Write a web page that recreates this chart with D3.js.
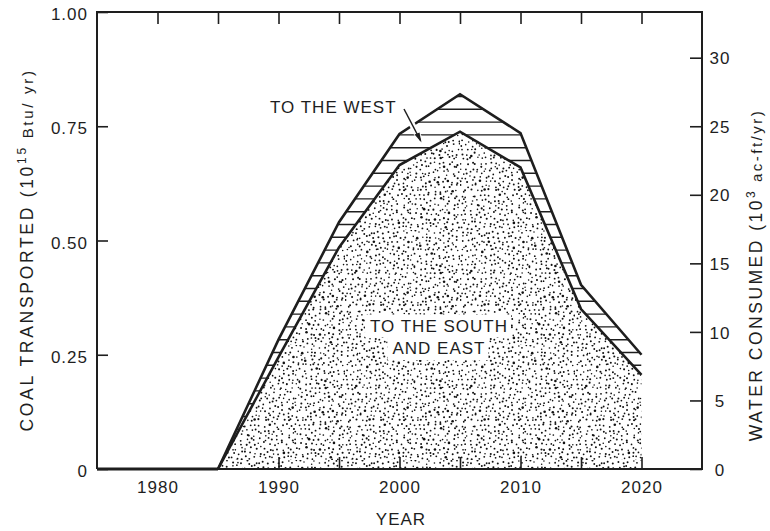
<!DOCTYPE html>
<html>
<head>
<meta charset="utf-8">
<script src="https://cdn.jsdelivr.net/npm/d3@7"></script>
<style>
  html, body { margin: 0; padding: 0; background: #fff; }
  svg { display: block; font-family: "Liberation Sans", Arial, Helvetica, sans-serif; }
</style>
</head>
<body>
<svg id="chart" width="770" height="531"></svg>
<script>
// Coal shipments (10^15 Btu/yr) by destination, read at five-year steps
const years      = [1975, 1980, 1985, 1990, 1995, 2000, 2005, 2010, 2015, 2020];
const southEast  = [0, 0, 0, 0.245, 0.485, 0.665, 0.738, 0.66, 0.35, 0.206];
const totalCoal  = [0, 0, 0, 0.283, 0.54, 0.733, 0.82, 0.735, 0.403, 0.25];

// Axis ticks and labels
const xLabelYears   = [1980, 1990, 2000, 2010, 2020];
const xTopTicks     = [1980, 1985, 1990, 1995, 2000, 2005, 2010, 2015, 2020];
const xBottomTicks  = [1990, 1995, 2000, 2005, 2010, 2015, 2020];
const coalTicks     = [0, 0.25, 0.5, 0.75, 1.0];
const coalTickText  = ["0", "0.25", "0.50", "0.75", "1.00"];
const waterTicks    = [0, 5, 10, 15, 20, 25, 30];

const ink = "#1e1e1e";
const svg = d3.select("#chart");

const x  = d3.scaleLinear().domain([1975, 2025]).range([97, 702]);
const y  = d3.scaleLinear().domain([0, 1]).range([469, 12]);
const yW = d3.scaleLinear().domain([0, 100 / 3]).range([469, 12]);

const rows = years.map((yr, i) => ({ year: yr, se: southEast[i], tot: totalCoal[i] }));
const active = rows.filter(d => d.year >= 1985);
const flat = rows.filter(d => d.year <= 1985);

const defs = svg.append("defs");

// Stipple texture: jittered grid of fine dots
const tile = 115, step = 4.6;
const rng = d3.randomLcg(0.4127);
const stip = defs.append("pattern")
  .attr("id", "stipple")
  .attr("patternUnits", "userSpaceOnUse")
  .attr("width", tile).attr("height", tile);
const dots = [];
for (let i = 0; i < tile / step; i++) {
  for (let j = 0; j < tile / step; j++) {
    const cx = (i + 0.5) * step + (rng() - 0.5) * step * 0.85;
    const cy = (j + 0.5) * step + (rng() - 0.5) * step * 0.85;
    const big = rng() < 0.05;
    dots.push({ cx, cy, r: big ? 1.3 : 0.75 + rng() * 0.3 });
  }
}
stip.selectAll("circle").data(dots).join("circle")
  .attr("cx", d => d.cx).attr("cy", d => d.cy).attr("r", d => d.r)
  .attr("fill", "#111");

// Lower (south & east) area
const seArea = d3.area()
  .x(d => x(d.year)).y0(y(0)).y1(d => y(d.se));
svg.append("path").datum(active)
  .attr("d", seArea)
  .attr("fill", "url(#stipple)");

// Band between the two curves (shipments to the west), hatched
const westArea = d3.area()
  .x(d => x(d.year)).y0(d => y(d.se)).y1(d => y(d.tot));
defs.append("clipPath").attr("id", "westClip")
  .append("path").datum(active).attr("d", westArea);
svg.append("path").datum(active).attr("d", westArea).attr("fill", "#fff");
const hatchYs = d3.range(6.9, 470, 12.8);
svg.append("g").attr("clip-path", "url(#westClip)")
  .selectAll("line").data(hatchYs).join("line")
  .attr("x1", x(1985)).attr("x2", x(2020))
  .attr("y1", d => d).attr("y2", d => d)
  .attr("stroke", ink).attr("stroke-width", 1.4);

// Frame: left, top, right, bottom
const frame = svg.append("g").attr("stroke", ink).attr("stroke-width", 2).attr("fill", "none");
frame.append("path").attr("d", `M${x(1975)},${y(0)}V${y(1)}H${x(2025)}V${y(0)}H${x(1975)}`);

// Curves
const lineSE  = d3.line().x(d => x(d.year)).y(d => y(d.se));
const lineTot = d3.line().x(d => x(d.year)).y(d => y(d.tot));
svg.append("path").datum(flat).attr("d", lineSE)
  .attr("fill", "none").attr("stroke", ink).attr("stroke-width", 3);
svg.append("path").datum(active).attr("d", lineSE)
  .attr("fill", "none").attr("stroke", ink).attr("stroke-width", 2.6).attr("stroke-linejoin", "miter");
svg.append("path").datum(active).attr("d", lineTot)
  .attr("fill", "none").attr("stroke", ink).attr("stroke-width", 2.6).attr("stroke-linejoin", "miter");

// Axes
const fontSize = 17;
function styleAxis(g) {
  g.select(".domain").remove();
  g.selectAll("line").attr("stroke", ink).attr("stroke-width", 1.6);
  g.selectAll("text").attr("fill", ink).attr("font-size", fontSize)
    .attr("letter-spacing", 1).attr("font-family", null);
}

svg.append("g").attr("transform", `translate(0,${y(1)})`)
  .call(d3.axisTop(x).tickValues(xTopTicks).tickSize(-12).tickFormat(""))
  .call(styleAxis);

svg.append("g").attr("transform", `translate(0,${y(0)})`)
  .call(d3.axisBottom(x).tickValues(xBottomTicks).tickSize(-12).tickFormat(""))
  .call(styleAxis);

svg.append("g").attr("transform", `translate(0,${y(0)})`)
  .call(d3.axisBottom(x).tickValues(xLabelYears).tickSize(0).tickPadding(12).tickFormat(d3.format("d")))
  .call(styleAxis)
  .call(g => g.selectAll("line").remove());

svg.append("g").attr("transform", `translate(${x(1975)},0)`)
  .call(d3.axisLeft(y).tickValues(coalTicks).tickSize(-11).tickPadding(9)
    .tickFormat((d, i) => coalTickText[i]))
  .call(styleAxis)
  .call(g => g.selectAll("text").attr("dy", "0.45em"));

svg.append("g").attr("transform", `translate(${x(2025)},0)`)
  .call(d3.axisRight(yW).tickValues(waterTicks).tickSize(-12).tickPadding(18))
  .call(styleAxis)
  .call(g => g.selectAll("text").attr("text-anchor", "middle").attr("dy", "0.36em"));

// Axis titles
const titleSize = 17.5;
const leftTitle = svg.append("text")
  .attr("transform", "translate(33,250) rotate(-90)")
  .attr("text-anchor", "middle").attr("fill", ink)
  .attr("font-size", titleSize).attr("letter-spacing", 2.7);
leftTitle.append("tspan").text("COAL TRANSPORTED (10");
leftTitle.append("tspan").attr("font-size", 12).attr("dy", -7).text("15");
leftTitle.append("tspan").attr("font-size", 15).attr("dy", 7).text(" Btu/ yr)");

const rightTitle = svg.append("text")
  .attr("transform", "translate(762,275) rotate(-90)")
  .attr("text-anchor", "middle").attr("fill", ink)
  .attr("font-size", titleSize).attr("letter-spacing", 2.5);
rightTitle.append("tspan").text("WATER CONSUMED (10");
rightTitle.append("tspan").attr("font-size", 12).attr("dy", -7).text("3");
rightTitle.append("tspan").attr("font-size", 15).attr("dy", 7).text(" ac-ft/yr)");

svg.append("text")
  .attr("x", 401).attr("y", 525)
  .attr("text-anchor", "middle").attr("fill", ink)
  .attr("font-size", fontSize).attr("letter-spacing", 1)
  .text("YEAR");

// Region labels
const southLines = ["TO THE SOUTH", "AND EAST"];
const southG = svg.append("g");
const southTexts = southG.selectAll("text").data(southLines).join("text")
  .attr("x", 439).attr("y", (d, i) => 331.5 + i * 22.5)
  .attr("text-anchor", "middle").attr("fill", ink)
  .attr("font-size", fontSize).attr("letter-spacing", 1)
  .text(d => d);
southTexts.each(function () {
  const b = this.getBBox();
  southG.insert("rect", "text")
    .attr("x", b.x - 5).attr("y", b.y - 2)
    .attr("width", b.width + 8).attr("height", b.height + 4)
    .attr("fill", "#fff");
});

svg.append("text")
  .attr("x", 270).attr("y", 113)
  .attr("fill", ink).attr("font-size", fontSize).attr("letter-spacing", 1)
  .text("TO THE WEST");

// Leader arrow into the western band
const arrowPath = "M404,109 L420.5,140.5";
svg.append("path").attr("d", arrowPath)
  .attr("stroke", "#fff").attr("stroke-width", 6).attr("fill", "none");
svg.append("path").attr("d", arrowPath)
  .attr("stroke", ink).attr("stroke-width", 1.5).attr("fill", "none");
svg.append("path")
  .attr("d", "M421.5,142.5 L414.5,134.5 L419.5,132.5 Z")
  .attr("fill", ink);
</script>
</body>
</html>
